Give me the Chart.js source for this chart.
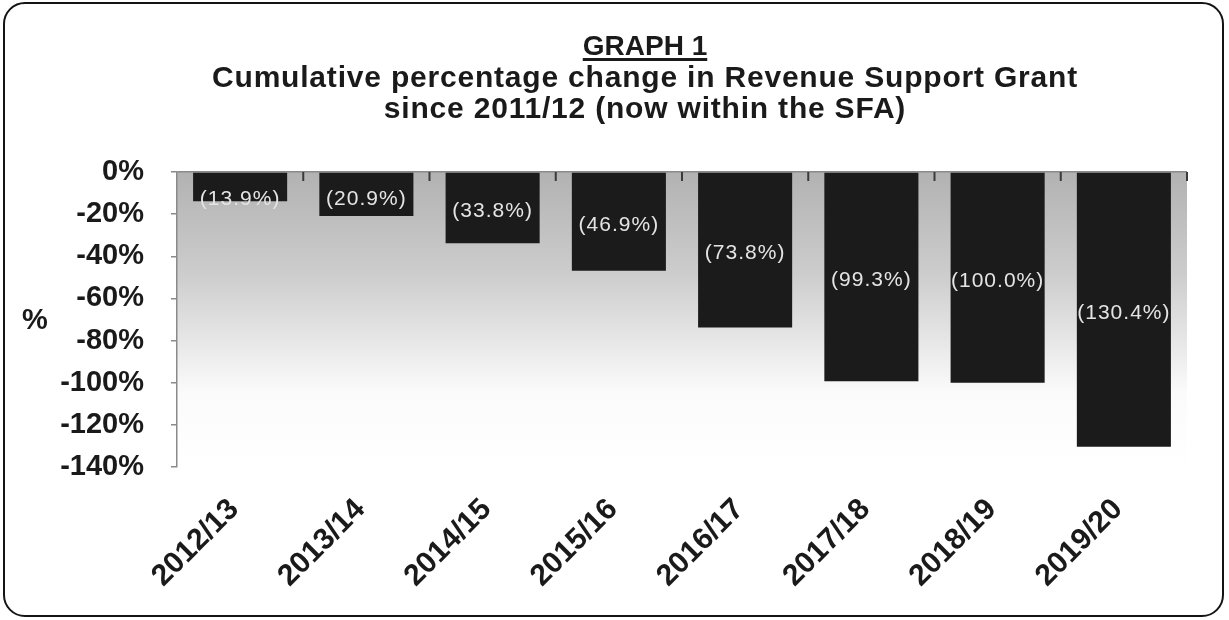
<!DOCTYPE html>
<html>
<head>
<meta charset="utf-8">
<script src="https://cdn.jsdelivr.net/npm/chart.js@4.4.1/dist/chart.umd.min.js"></script>
<style>
  body { margin: 0; background: #fff; }
  #wrap { position: relative; width: 1229px; height: 620px; overflow: hidden; }
  #frame {
    position: absolute; left: 3px; top: 2px; width: 1221px; height: 615px;
    box-sizing: border-box; border: 2.5px solid #141414; border-radius: 22px;
  }
  #title {
    position: absolute; left: 95px; width: 1100px; top: 29px;
    text-align: center; font: bold 30px "Liberation Sans", Arial, sans-serif;
    letter-spacing: 0.8px; line-height: 31px; color: #1a1a1a;
  }
  #title u { font-size: 28px; text-decoration-thickness: 3px; text-underline-offset: 3px; letter-spacing: 0; }
  #ylab {
    position: absolute; left: 22px; top: 303px;
    font: bold 29px "Liberation Sans", Arial, sans-serif; color: #1a1a1a;
  }
  canvas { position: absolute; left: 0; top: 0; }
</style>
</head>
<body>
<div id="wrap">
  <canvas id="chart" width="1229" height="620"></canvas>
  <div id="frame"></div>
  <div id="title"><u>GRAPH 1</u><br>Cumulative percentage change in Revenue Support Grant<br>since 2011/12 (now within the SFA)</div>
  <div id="ylab">%</div>
</div>
<script>
const years = ['2012/13', '2013/14', '2014/15', '2015/16', '2016/17', '2017/18', '2018/19', '2019/20'];
const cumulativeChange = [-13.9, -20.9, -33.8, -46.9, -73.8, -99.3, -100.0, -130.4];
const yTicks = [0, -20, -40, -60, -80, -100, -120, -140];

// grey-to-white fill behind the bars
const plotBackground = {
    id: 'plotBackground',
    beforeDraw(chart) {
        const a = chart.chartArea;
        const ctx = chart.ctx;
        const g = ctx.createLinearGradient(0, a.top, 0, a.bottom);
        g.addColorStop(0, '#b2b2b2');
        g.addColorStop(0.35, '#cdcdcd');
        g.addColorStop(0.75, '#fbfbfb');
        g.addColorStop(1, '#ffffff');
        ctx.save();
        ctx.fillStyle = g;
        ctx.fillRect(a.left, a.top, a.right - a.left, a.bottom - a.top);
        ctx.restore();
    }
};

// small category tick marks hanging from the 0% line
const zeroTicks = {
    id: 'zeroTicks',
    afterDatasetsDraw(chart) {
        const xs = chart.scales.x;
        const top = chart.scales.y.getPixelForValue(0);
        const half = (xs.getPixelForValue(1) - xs.getPixelForValue(0)) / 2;
        const ctx = chart.ctx;
        ctx.save();
        ctx.strokeStyle = '#3a3a3a';
        ctx.lineWidth = 2;
        for (let i = 0; i < years.length; i++) {
            const x = xs.getPixelForValue(i) + half;
            ctx.beginPath();
            ctx.moveTo(x, top);
            ctx.lineTo(x, top + 9);
            ctx.stroke();
        }
        ctx.restore();
    }
};

// "(13.9%)" style labels inside each bar
const barLabels = {
    id: 'barLabels',
    afterDatasetsDraw(chart) {
        const ctx = chart.ctx;
        const meta = chart.getDatasetMeta(0);
        ctx.save();
        ctx.font = '21px "Liberation Sans", Arial, sans-serif';
        ctx.letterSpacing = '1px';
        ctx.fillStyle = '#e4e4e4';
        ctx.textAlign = 'center';
        ctx.textBaseline = 'middle';
        meta.data.forEach((bar, i) => {
            const v = cumulativeChange[i];
            const y = Math.max((bar.y + bar.base) / 2 + 3, bar.base + 26);
            ctx.fillText('(' + Math.abs(v).toFixed(1) + '%)', bar.x, y);
        });
        ctx.restore();
    }
};

new Chart(document.getElementById('chart').getContext('2d'), {
    type: 'bar',
    data: {
        labels: years,
        datasets: [{
            data: cumulativeChange,
            backgroundColor: '#1b1b1b',
            borderWidth: 0,
            barPercentage: 0.745,
            categoryPercentage: 1
        }]
    },
    options: {
        responsive: false,
        animation: false,
        layout: { padding: { top: 172, right: 42, left: 0, bottom: 0 } },
        plugins: {
            legend: { display: false },
            tooltip: { enabled: false }
        },
        scales: {
            x: {
                afterFit(scale) { scale.height = 153; },
                grid: { display: false },
                border: { display: false },
                ticks: {
                    minRotation: 45,
                    maxRotation: 45,
                    padding: 17,
                    labelOffset: -6,
                    color: '#1a1a1a',
                    font: { family: '"Liberation Sans", Arial, sans-serif', size: 30, weight: 'bold' }
                }
            },
            y: {
                min: -140,
                max: 0,
                afterFit(scale) { scale.width = 177; },
                afterBuildTicks(scale) { scale.ticks = yTicks.map(v => ({ value: v })); },
                border: { display: true, color: '#8a8a8a', width: 1.5 },
                grid: {
                    color: c => (c.tick && c.tick.value === 0 ? '#8a8a8a' : 'rgba(0,0,0,0)'),
                    tickColor: '#8a8a8a',
                    tickLength: 6,
                    lineWidth: 1.5
                },
                ticks: {
                    padding: 27,
                    color: '#1a1a1a',
                    font: { family: '"Liberation Sans", Arial, sans-serif', size: 29, weight: 'bold' },
                    callback: v => v + '%'
                }
            }
        }
    },
    plugins: [plotBackground, zeroTicks, barLabels]
});
</script>
</body>
</html>
